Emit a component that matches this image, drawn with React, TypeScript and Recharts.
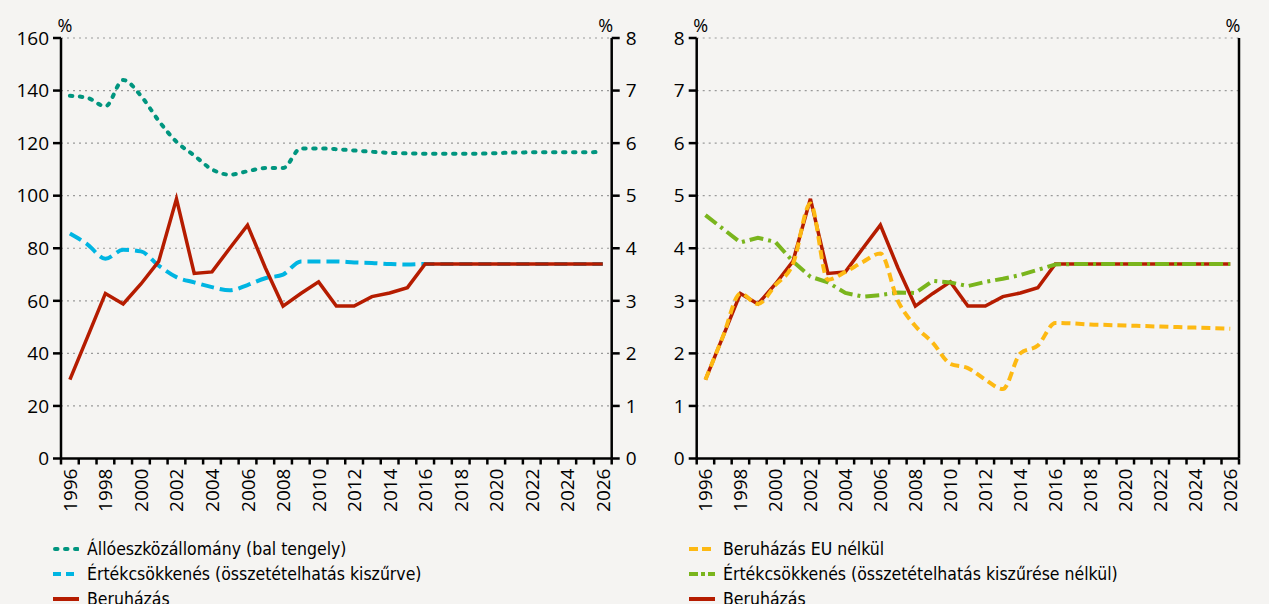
import { CartesianGrid, Label, Line, LineChart, XAxis, YAxis } from "recharts";

const years = [
  1996, 1997, 1998, 1999, 2000, 2001, 2002, 2003, 2004, 2005, 2006, 2007, 2008, 2009, 2010, 2011,
  2012, 2013, 2014, 2015, 2016, 2017, 2018, 2019, 2020, 2021, 2022, 2023, 2024, 2025, 2026,
];
const yearLabels = [
  1996, 1998, 2000, 2002, 2004, 2006, 2008, 2010, 2012, 2014, 2016, 2018, 2020, 2022, 2024, 2026,
];
const leftTicks160 = [0, 20, 40, 60, 80, 100, 120, 140, 160];
const ticks8 = [0, 1, 2, 3, 4, 5, 6, 7, 8];

// left chart
const alloeszkoz = [
  138, 137.2, 134, 144, 138, 128.5, 120.5, 115.3, 110, 108, 109.3, 110.5, 110.5, 118, 118, 117.7,
  117.2, 116.7, 116.3, 116.1, 116, 116, 116, 116, 116.2, 116.4, 116.5, 116.5, 116.5, 116.5, 116.7,
];
const ertekcsokkenesSzurt = [
  4.28, 4.07, 3.8, 3.97, 3.94, 3.67, 3.45, 3.35, 3.26, 3.2, 3.3, 3.43, 3.5, 3.75, 3.75, 3.75,
  3.73, 3.72, 3.7, 3.69, 3.7, 3.7, 3.7, 3.7, 3.7, 3.7, 3.7, 3.7, 3.7, 3.7, 3.7,
];
const beruhazas = [
  1.5, 2.32, 3.14, 2.94, 3.32, 3.75, 4.94, 3.52, 3.55, 4.0, 4.44, 3.63, 2.9, 3.14, 3.36, 2.9,
  2.9, 3.08, 3.15, 3.25, 3.7, 3.7, 3.7, 3.7, 3.7, 3.7, 3.7, 3.7, 3.7, 3.7, 3.7,
];

// right chart
const beruhazasEuNelkul = [
  1.5, 2.32, 3.14, 2.94, 3.3, 3.7, 4.85, 3.4, 3.55, 3.74, 3.9, 3.0, 2.52, 2.2, 1.8, 1.72,
  1.5, 1.32, 2.0, 2.15, 2.58, 2.57, 2.55, 2.54, 2.53, 2.52, 2.51, 2.5, 2.49, 2.48, 2.47,
];
const ertekcsokkenes = [
  4.63, 4.37, 4.11, 4.2, 4.12, 3.75, 3.46, 3.35, 3.15, 3.08, 3.11, 3.16, 3.15, 3.38, 3.35, 3.28,
  3.36, 3.42, 3.49, 3.59, 3.69, 3.7, 3.7, 3.7, 3.7, 3.7, 3.7, 3.7, 3.7, 3.7, 3.7,
];

const data = years.map((year, i) => ({
  year,
  alloeszkoz: alloeszkoz[i],
  ertekcsokkenesSzurt: ertekcsokkenesSzurt[i],
  beruhazas: beruhazas[i],
  beruhazasEuNelkul: beruhazasEuNelkul[i],
  ertekcsokkenes: ertekcsokkenes[i],
}));

// tick marks sit on the year boundaries, labels on the even years
const boundaryTicks = [years[0] - 0.5, ...years.map((y) => y + 0.5)];
const xTicks = [...boundaryTicks, ...yearLabels].sort((a, b) => a - b);

const TEAL = "#00957f";
const CYAN = "#00b5e2";
const RED = "#b51c00";
const YELLOW = "#fdb913";
const GREEN = "#7ab51d";

const BG = "#f5f4f2";
const AXIS_FONT = "'Open Sans', sans-serif";
const LEGEND_FONT = "'Liberation Sans Narrow', 'DejaVu Sans Condensed', sans-serif";

const leftLegend = [
  { label: "Állóeszközállomány (bal tengely)", color: TEAL, dash: "2.5 7.5", cap: "round" },
  { label: "Értékcsökkenés (összetételhatás kiszűrve)", color: CYAN, dash: "8 5", cap: "butt" },
  { label: "Beruházás", color: RED, dash: "", cap: "butt" },
];
const rightLegend = [
  { label: "Beruházás EU nélkül", color: YELLOW, dash: "9 4", cap: "butt" },
  { label: "Értékcsökkenés (összetételhatás kiszűrése nélkül)", color: GREEN, dash: "9 3 4 3", cap: "butt" },
  { label: "Beruházás", color: RED, dash: "", cap: "butt" },
];

function YearTick(props: any) {
  const { x, y, payload } = props;
  const v = payload.value;
  if (!Number.isInteger(v)) {
    return <line x1={x} x2={x} y1={y} y2={y + 6} stroke="#000" strokeWidth={2.5} />;
  }
  if (!yearLabels.includes(v)) return null;
  return (
    <text
      transform={`translate(${x},${y + 10}) rotate(-90)`}
      textAnchor="end"
      dominantBaseline="central"
      fontSize={19}
      fontFamily={AXIS_FONT}
      fill="#000"
    >
      {v}
    </text>
  );
}

const percentLabel = (side: "left" | "right") => (props: any) => {
  const vb = props.viewBox || { x: 0, y: 0, width: 0 };
  const x = side === "left" ? vb.x + vb.width + 4 : vb.x - 6;
  return (
    <text x={x} y={vb.y - 6} textAnchor="middle" fontSize={18} fontFamily={AXIS_FONT} fill="#000">
      %
    </text>
  );
};

const axisLine = { stroke: "#000", strokeWidth: 2.5 };
const tickStyle = { fontSize: 19, fill: "#000", fontFamily: AXIS_FONT };

function Legend({ items, left }: { items: typeof leftLegend; left: number }) {
  return (
    <div style={{ position: "absolute", left, top: 536, fontFamily: LEGEND_FONT, fontSize: 17.5 }}>
      {items.map((it) => (
        <div key={it.label} style={{ display: "flex", alignItems: "center", height: 25 }}>
          <svg width={26} height={10} style={{ marginRight: 8 }}>
            <line
              x1={it.cap === "round" ? 2 : 0}
              x2={26}
              y1={5}
              y2={5}
              stroke={it.color}
              strokeWidth={4}
              strokeDasharray={it.dash || undefined}
              strokeLinecap={it.cap as any}
            />
          </svg>
          <span style={{ color: "#000", whiteSpace: "nowrap" }}>{it.label}</span>
        </div>
      ))}
    </div>
  );
}

export default function App() {
  const chartMargin = { top: 38, right: 0, bottom: 0, left: 0 };
  return (
    <div
      style={{
        position: "absolute",
        left: 0,
        top: 0,
        width: 1269,
        height: 604,
        background: BG,
        overflow: "hidden",
      }}
    >
      <div style={{ position: "absolute", left: 0, top: 0 }}>
        <LineChart width={640} height={530} data={data} margin={chartMargin}>
          <CartesianGrid vertical={false} yAxisId="left" stroke="#9a9a9a" strokeDasharray="2 4" strokeWidth={1.2} />
          <XAxis
            dataKey="year"
            type="number"
            domain={[1995.5, 2026.5]}
            ticks={xTicks}
            interval={0}
            tick={<YearTick />}
            tickLine={false}
            tickSize={0}
            tickMargin={0}
            axisLine={axisLine}
            height={71.5}
          />
          <YAxis
            yAxisId="left"
            domain={[0, 160]}
            ticks={leftTicks160}
            interval={0}
            width={61}
            tickSize={8}
            tickMargin={4}
            axisLine={axisLine}
            tickLine={axisLine}
            tick={tickStyle}
          >
            <Label content={percentLabel("left")} />
          </YAxis>
          <YAxis
            yAxisId="right"
            orientation="right"
            domain={[0, 8]}
            ticks={ticks8}
            interval={0}
            width={28.3}
            tickSize={8}
            tickMargin={6}
            axisLine={axisLine}
            tickLine={axisLine}
            tick={tickStyle}
          >
            <Label content={percentLabel("right")} />
          </YAxis>
          <Line
            yAxisId="left"
            type="monotone"
            dataKey="alloeszkoz"
            stroke={TEAL}
            strokeWidth={4}
            strokeDasharray="2.5 7.5"
            strokeLinecap="round"
            dot={false}
            isAnimationActive={false}
          />
          <Line
            yAxisId="right"
            type="monotone"
            dataKey="ertekcsokkenesSzurt"
            stroke={CYAN}
            strokeWidth={4}
            strokeDasharray="13 6"
            dot={false}
            isAnimationActive={false}
          />
          <Line
            yAxisId="right"
            type="linear"
            dataKey="beruhazas"
            stroke={RED}
            strokeWidth={3.5}
            dot={false}
            isAnimationActive={false}
          />
        </LineChart>
      </div>
      <Legend items={leftLegend} left={53} />

      <div style={{ position: "absolute", left: 640, top: 0 }}>
        <LineChart width={629} height={530} data={data} margin={chartMargin}>
          <CartesianGrid vertical={false} yAxisId="left" stroke="#9a9a9a" strokeDasharray="2 4" strokeWidth={1.2} />
          <XAxis
            dataKey="year"
            type="number"
            domain={[1995.5, 2026.5]}
            ticks={xTicks}
            interval={0}
            tick={<YearTick />}
            tickLine={false}
            tickSize={0}
            tickMargin={0}
            axisLine={axisLine}
            height={71.5}
          />
          <YAxis
            yAxisId="left"
            domain={[0, 8]}
            ticks={ticks8}
            interval={0}
            width={56.7}
            tickSize={8}
            tickMargin={4}
            axisLine={axisLine}
            tickLine={axisLine}
            tick={tickStyle}
          >
            <Label content={percentLabel("left")} />
          </YAxis>
          <YAxis
            yAxisId="right"
            orientation="right"
            domain={[0, 8]}
            ticks={ticks8}
            interval={0}
            width={30}
            tickSize={8}
            tickMargin={6}
            axisLine={axisLine}
            tickLine={axisLine}
            tick={tickStyle}
          >
            <Label content={percentLabel("right")} />
          </YAxis>
          <Line
            yAxisId="left"
            type="linear"
            dataKey="beruhazas"
            stroke={RED}
            strokeWidth={3.5}
            dot={false}
            isAnimationActive={false}
          />
          <Line
            yAxisId="left"
            type="linear"
            dataKey="ertekcsokkenes"
            stroke={GREEN}
            strokeWidth={4}
            strokeDasharray="14 5 3 5"
            dot={false}
            isAnimationActive={false}
          />
          <Line
            yAxisId="left"
            type="monotone"
            dataKey="beruhazasEuNelkul"
            stroke={YELLOW}
            strokeWidth={4}
            strokeDasharray="9 5"
            dot={false}
            isAnimationActive={false}
          />
        </LineChart>
      </div>
      <Legend items={rightLegend} left={689} />
    </div>
  );
}
